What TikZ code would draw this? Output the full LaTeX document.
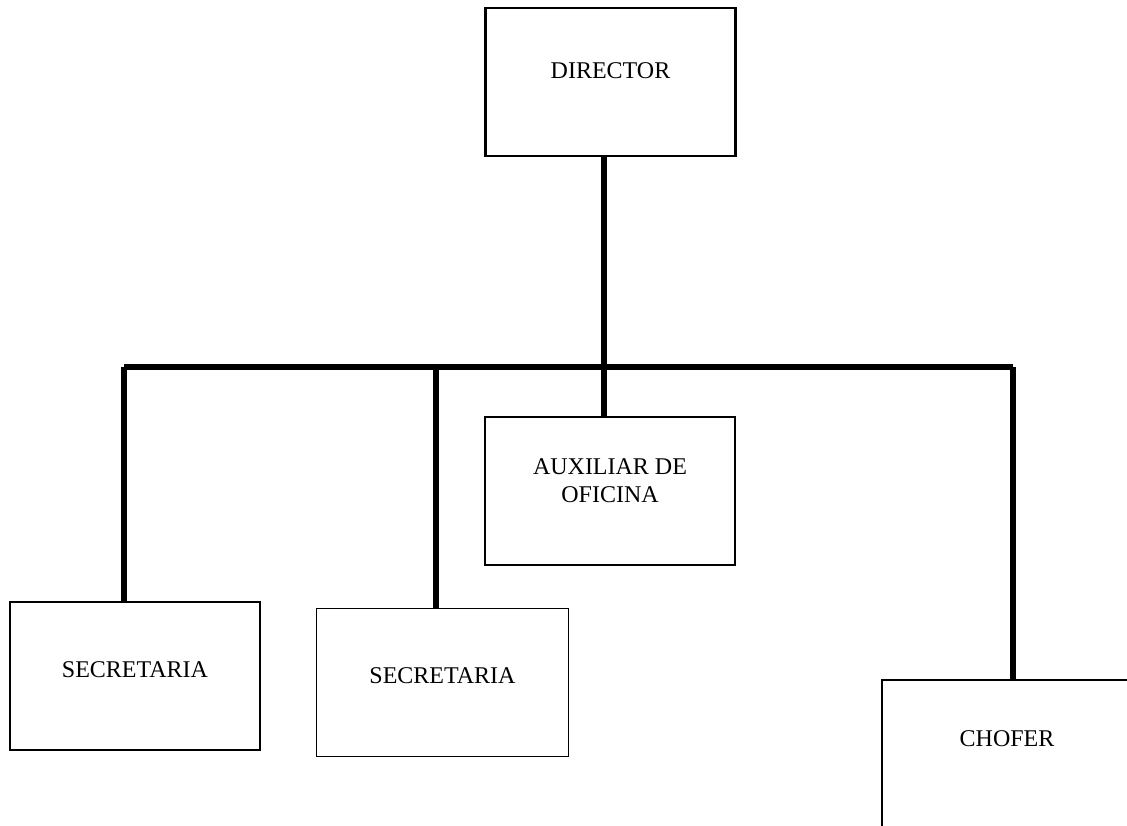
\documentclass[tikz,border=0pt]{standalone}
\usepackage{fontspec}
\setmainfont{Liberation Serif}
\begin{document}
\begin{tikzpicture}[x=1pt,y=-1pt,
    puesto/.style={draw, line width=2.5pt, minimum width=250pt, minimum height=148pt, inner sep=0pt, align=center, font=\fontsize{24}{28}\selectfont},
    linea/.style={line width=6pt}]
  \useasboundingbox (0,0) rectangle (1127,826);
  % cargos
  \node[puesto, text depth=22pt] (dir) at (610.5,82) {DIRECTOR};
  \node[puesto, text height=24pt] (aux) at (610,491) {AUXILIAR DE\\OFICINA};
  \node[puesto, text depth=13pt] (sec1) at (135,676) {SECRETARIA};
  \node[puesto, line width=1pt, minimum width=252pt, text depth=13pt] (sec2) at (442.5,682) {SECRETARIA};
  \node[puesto, text depth=31pt] (chof) at (1007,754) {CHOFER};
  % lineas de mando
  \coordinate (b1) at (124,367);
  \coordinate (b2) at (436,367);
  \coordinate (b4) at (1013,367);
  \coordinate (b3) at ([xshift=-6.5pt]dir.south);
  \draw[linea] (b1) -- (b4);
  \draw[linea] (b3) -- (b3 |- aux.north);
  \draw[linea] (b1) -- (b1 |- sec1.north);
  \draw[linea] (b2) -- (b2 |- sec2.north);
  \draw[linea] (b4) -- (b4 |- chof.north);
\end{tikzpicture}
\end{document}
